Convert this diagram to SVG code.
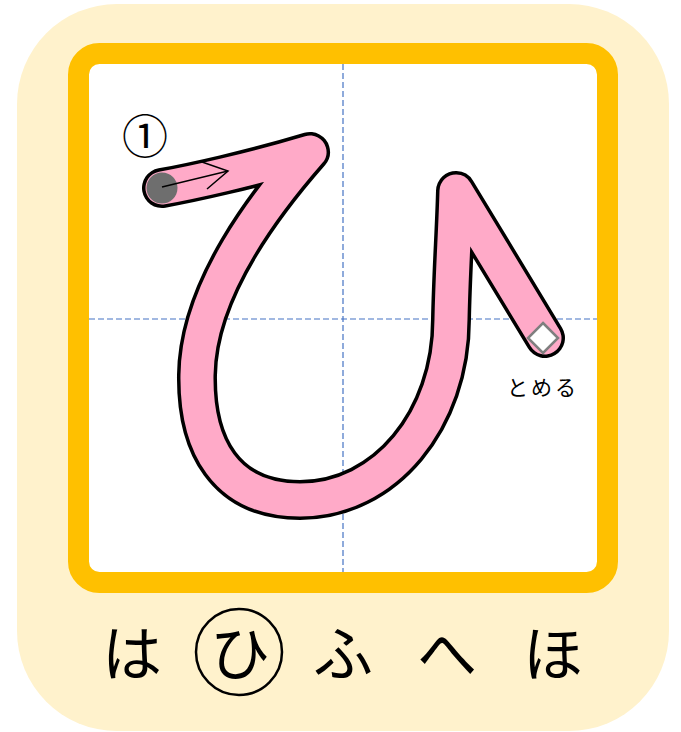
<svg xmlns="http://www.w3.org/2000/svg" width="681" height="732" viewBox="0 0 681 732">
  <defs>
    <style>
      .guide { stroke: #4472C4; stroke-width: 1.2; stroke-dasharray: 6 3; fill: none; }
      .jp { font-family: "Noto Sans CJK JP", "Noto Sans CJK SC", sans-serif; fill: #000000; }
      .kana { font-size: 60px; text-anchor: middle; }
      .outline { fill: none; stroke: #000000; stroke-width: 40; stroke-linecap: round; stroke-linejoin: round; }
      .fillstroke { fill: none; stroke: #FFAAC8; stroke-width: 33; stroke-linecap: round; stroke-linejoin: round; }
    </style>
    <path id="hi-stroke" d="M162,188 C190,183 250,170 310,152 C268,200 198,288 197,375 C196,445 225,500 300,500 C385,500 451,420 451,319 C452,270 455,230 456,191 L545,338"/>
  </defs>

  <g id="background">
    <rect x="17" y="4" width="652" height="727" rx="100" ry="100" fill="#FFF2CC"/>
    <rect x="78.5" y="53.5" width="529" height="529" rx="21" ry="21" fill="#FFFFFF" stroke="#FFC000" stroke-width="21"/>
  </g>

  <g id="guides">
    <line class="guide" x1="343" y1="64" x2="343" y2="572"/>
    <line class="guide" x1="89" y1="319" x2="597" y2="319"/>
  </g>

  <g id="stroke-hi">
    <use href="#hi-stroke" class="outline"/>
    <use href="#hi-stroke" class="fillstroke"/>
  </g>

  <g id="start-marker">
    <circle cx="162" cy="188" r="15.5" fill="#6E6E6E"/>
  </g>

  <g id="connectors">
    <line x1="162" y1="187" x2="228" y2="171" stroke="#000000" stroke-width="1.5"/>
    <polyline points="202,162 228,171 207,189" fill="none" stroke="#000000" stroke-width="1.5"/>
  </g>

  <g id="stroke-number">
    <text class="jp" x="145" y="153" font-size="46" text-anchor="middle">①</text>
  </g>

  <g id="end-marker">
    <polygon points="543,323 558,338 543,353 528,338" fill="#FFFFFF" stroke="#7F7F7F" stroke-width="2.5"/>
    <text class="jp" x="543" y="395" font-size="21" letter-spacing="3" text-anchor="middle">とめる</text>
  </g>

  <g id="row">
    <text class="jp kana" x="132" y="676">は</text>
    <circle cx="239" cy="652" r="43" fill="none" stroke="#000000" stroke-width="2.5"/>
    <text class="jp kana" x="240" y="676">ひ</text>
    <text class="jp kana" x="343" y="676">ふ</text>
    <text class="jp kana" x="447" y="676">へ</text>
    <text class="jp kana" x="553" y="676">ほ</text>
  </g>
</svg>
